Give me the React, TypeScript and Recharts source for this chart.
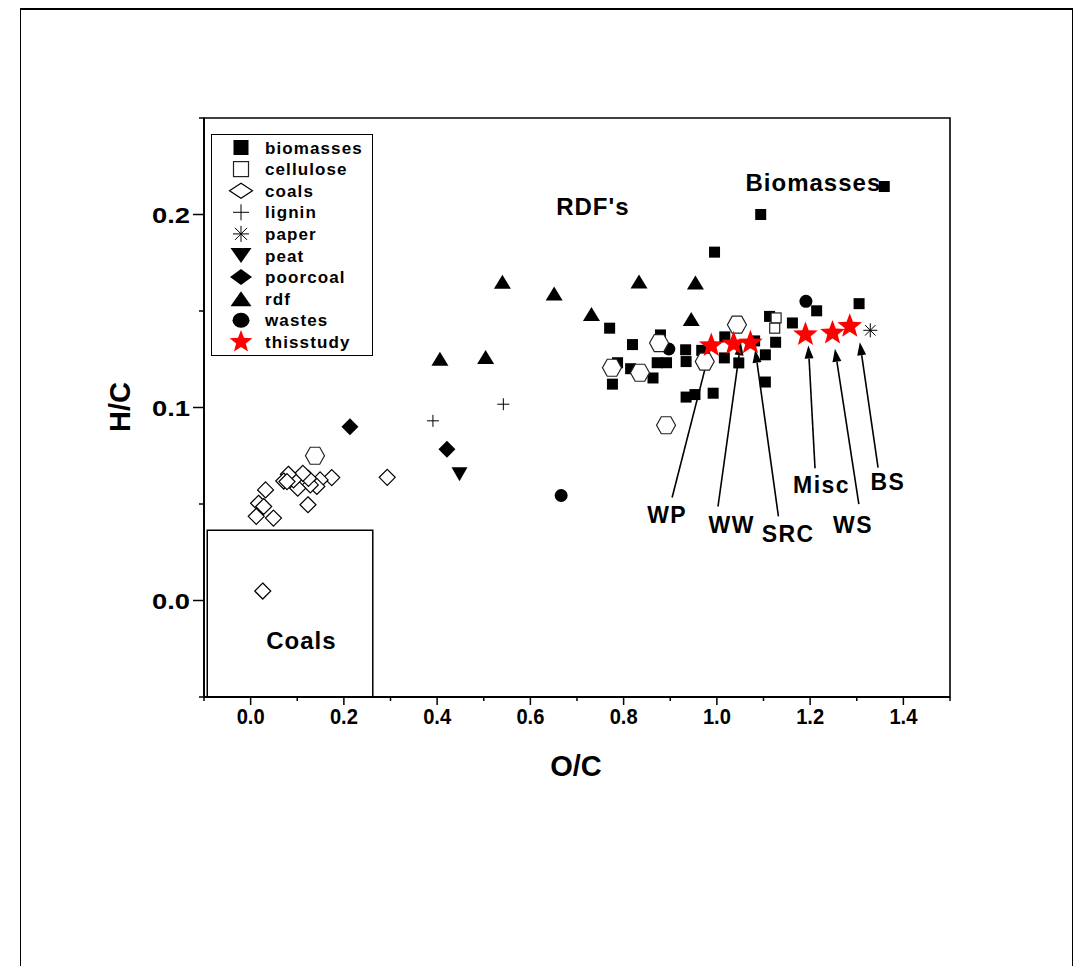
import React from "react";
import {
  ScatterChart,
  Scatter,
  XAxis,
  YAxis,
  ReferenceArea,
  ReferenceLine,
  Legend,
} from "recharts";

// values (O/C, H/C)
const biomasses = [
  { x: 1.359, y: 0.2145 }, { x: 1.094, y: 0.2 }, { x: 0.995, y: 0.1805 },
  { x: 1.305, y: 0.1538 }, { x: 1.214, y: 0.1501 }, { x: 1.113, y: 0.1472 },
  { x: 1.162, y: 0.1438 }, { x: 1.126, y: 0.1338 }, { x: 1.081, y: 0.1345 },
  { x: 1.104, y: 0.1273 }, { x: 1.104, y: 0.1132 }, { x: 1.017, y: 0.1366 },
  { x: 1.016, y: 0.1257 }, { x: 1.047, y: 0.1231 }, { x: 0.9675, y: 0.1296 },
  { x: 0.992, y: 0.1074 }, { x: 0.953, y: 0.1067 }, { x: 0.934, y: 0.1054 },
  { x: 0.934, y: 0.1238 }, { x: 0.933, y: 0.1299 }, { x: 0.892, y: 0.1232 },
  { x: 0.872, y: 0.1232 }, { x: 0.863, y: 0.1153 }, { x: 0.879, y: 0.1376 },
  { x: 0.819, y: 0.1326 }, { x: 0.77, y: 0.1411 }, { x: 0.787, y: 0.1232 },
  { x: 0.815, y: 0.1201 }, { x: 0.776, y: 0.1121 },
];
const cellulose = [{ x: 1.127, y: 0.1464 }, { x: 1.124, y: 0.1411 }];
const coals = [
  { x: 0.026, y: 0.0049 }, { x: 0.293, y: 0.0638 }, { x: 0.174, y: 0.0637 },
  { x: 0.149, y: 0.0625 }, { x: 0.142, y: 0.0591 }, { x: 0.128, y: 0.0599 },
  { x: 0.124, y: 0.0633 }, { x: 0.112, y: 0.0659 }, { x: 0.101, y: 0.0582 },
  { x: 0.092, y: 0.0625 }, { x: 0.081, y: 0.0654 }, { x: 0.071, y: 0.0619 },
  { x: 0.078, y: 0.0616 }, { x: 0.123, y: 0.0496 }, { x: 0.032, y: 0.0573 },
  { x: 0.017, y: 0.0504 }, { x: 0.028, y: 0.0487 }, { x: 0.012, y: 0.0436 },
  { x: 0.049, y: 0.0427 },
];
const lignin = [{ x: 0.391, y: 0.0931 }, { x: 0.542, y: 0.1017 }];
const paper = [{ x: 1.329, y: 0.14 }];
const peat = [{ x: 0.448, y: 0.0654 }];
const poorcoal = [{ x: 0.213, y: 0.09 }, { x: 0.421, y: 0.0784 }];
const rdf = [
  { x: 0.54, y: 0.1651 }, { x: 0.651, y: 0.1591 }, { x: 0.833, y: 0.1653 },
  { x: 0.954, y: 0.1648 }, { x: 0.731, y: 0.1484 }, { x: 0.945, y: 0.1458 },
  { x: 0.406, y: 0.1252 }, { x: 0.504, y: 0.1262 },
];
const wastes = [{ x: 1.191, y: 0.155 }, { x: 0.897, y: 0.1303 }, { x: 0.666, y: 0.0544 }];
// open hexagons (not in the legend)
const hexagons = [
  { x: 0.138, y: 0.075 }, { x: 0.891, y: 0.0908 }, { x: 1.043, y: 0.1429 },
  { x: 0.876, y: 0.1334 }, { x: 0.775, y: 0.1206 }, { x: 0.835, y: 0.118 },
  { x: 0.974, y: 0.1238 },
];
const thisstudy = [
  { x: 0.988, y: 0.1321 }, { x: 1.036, y: 0.133 }, { x: 1.072, y: 0.1335 },
  { x: 1.19, y: 0.1378 }, { x: 1.248, y: 0.1386 }, { x: 1.285, y: 0.1421 },
];

const regionLabels = [
  { x: 0.734, y: 0.2043, text: "RDF's" },
  { x: 1.207, y: 0.2165, text: "Biomasses" },
  { x: 0.109, y: -0.0209, text: "Coals" },
];
const sampleLabels = [
  { x: 0.8934, y: 0.0444, text: "WP" },
  { x: 1.032, y: 0.0392, text: "WW" },
  { x: 1.153, y: 0.0345, text: "SRC" },
  { x: 1.2246, y: 0.0596, text: "Misc" },
  { x: 1.292, y: 0.0389, text: "WS" },
  { x: 1.367, y: 0.0613, text: "BS" },
];
const arrows = [
  { from: { x: 0.904, y: 0.0534 }, to: { x: 0.9846, y: 0.1295 } },
  { from: { x: 1.0024, y: 0.0487 }, to: { x: 1.0515, y: 0.1338 } },
  { from: { x: 1.132, y: 0.0436 }, to: { x: 1.0823, y: 0.1299 } },
  { from: { x: 1.2105, y: 0.0685 }, to: { x: 1.1962, y: 0.1321 } },
  { from: { x: 1.3045, y: 0.0499 }, to: { x: 1.2532, y: 0.1304 } },
  { from: { x: 1.3457, y: 0.0688 }, to: { x: 1.3066, y: 0.1338 } },
];

const xTicks = [-0.1, 0, 0.1, 0.2, 0.3, 0.4, 0.5, 0.6, 0.7, 0.8, 0.9, 1.0, 1.1, 1.2, 1.3, 1.4, 1.5];
const xMajor = [0, 0.2, 0.4, 0.6, 0.8, 1.0, 1.2, 1.4];
const xMajorLabels = ["0.0", "0.2", "0.4", "0.6", "0.8", "1.0", "1.2", "1.4"];
const yTicks = [-0.05, 0, 0.05, 0.1, 0.15, 0.2, 0.25];
const yMajor = [0, 0.1, 0.2];
const yMajorLabels = ["0.0", "0.1", "0.2"];

const legendItems = [
  { name: "biomasses", kind: "square" },
  { name: "cellulose", kind: "openSquare" },
  { name: "coals", kind: "diamond" },
  { name: "lignin", kind: "plus" },
  { name: "paper", kind: "asterisk" },
  { name: "peat", kind: "down" },
  { name: "poorcoal", kind: "fillDiamond" },
  { name: "rdf", kind: "up" },
  { name: "wastes", kind: "circle" },
  { name: "thisstudy", kind: "star" },
];

const FONT = "'Liberation Sans', Arial, sans-serif";
const RED = "#ff0000";

const starPoints = (cx: number, cy: number, ro: number, ri: number) =>
  Array.from({ length: 10 }, (_, i) => {
    const r = i % 2 === 0 ? ro : ri;
    const a = -Math.PI / 2 + (i * Math.PI) / 5;
    return `${cx + r * Math.cos(a)},${cy + r * Math.sin(a)}`;
  }).join(" ");

// one marker drawer for plot and legend; w/h let the legend stretch them
function mark(kind: string, cx: number, cy: number, w: number, h: number) {
  const hw = w / 2;
  const hh = h / 2;
  switch (kind) {
    case "square":
      return <rect x={cx - hw} y={cy - hh} width={w} height={h} fill="#000" />;
    case "openSquare":
      return <rect x={cx - hw} y={cy - hh} width={w} height={h} fill="#fff" stroke="#222" strokeWidth={1.2} />;
    case "diamond":
      return (
        <polygon
          points={`${cx},${cy - hh} ${cx + hw},${cy} ${cx},${cy + hh} ${cx - hw},${cy}`}
          fill="#fff" stroke="#000" strokeWidth={1.2}
        />
      );
    case "fillDiamond":
      return <polygon points={`${cx},${cy - hh} ${cx + hw},${cy} ${cx},${cy + hh} ${cx - hw},${cy}`} fill="#000" />;
    case "plus":
      return (
        <g stroke="#000" strokeWidth={1}>
          <line x1={cx - hw} y1={cy} x2={cx + hw} y2={cy} />
          <line x1={cx} y1={cy - hh} x2={cx} y2={cy + hh} />
        </g>
      );
    case "asterisk":
      return (
        <g stroke="#000" strokeWidth={1}>
          <line x1={cx - hw} y1={cy} x2={cx + hw} y2={cy} />
          <line x1={cx} y1={cy - hh} x2={cx} y2={cy + hh} />
          <line x1={cx - hw * 0.75} y1={cy - hh * 0.75} x2={cx + hw * 0.75} y2={cy + hh * 0.75} />
          <line x1={cx - hw * 0.75} y1={cy + hh * 0.75} x2={cx + hw * 0.75} y2={cy - hh * 0.75} />
        </g>
      );
    case "down":
      return <polygon points={`${cx - hw},${cy - hh} ${cx + hw},${cy - hh} ${cx},${cy + hh}`} fill="#000" />;
    case "up":
      return <polygon points={`${cx - hw},${cy + hh} ${cx + hw},${cy + hh} ${cx},${cy - hh}`} fill="#000" />;
    case "circle":
      return <ellipse cx={cx} cy={cy} rx={hw} ry={hh} fill="#000" />;
    case "hexagon":
      return (
        <polygon
          points={`${cx + hw},${cy} ${cx + hw / 2},${cy - hh} ${cx - hw / 2},${cy - hh} ${cx - hw},${cy} ${cx - hw / 2},${cy + hh} ${cx + hw / 2},${cy + hh}`}
          fill="#fff" stroke="#222" strokeWidth={1.2}
        />
      );
    case "star":
      return <polygon points={starPoints(cx, cy, hw, hw * 0.42)} fill={RED} />;
    default:
      return <g />;
  }
}

const shapeOf = (kind: string, w: number, h: number) => (p: any) => mark(kind, p.cx, p.cy, w, h);

const textShape = (size: number, spacing: number) => (p: any) => (
  <text
    x={p.cx}
    y={p.cy}
    textAnchor="middle"
    dominantBaseline="central"
    fontFamily={FONT}
    fontWeight="bold"
    fontSize={size}
    letterSpacing={spacing}
    fill="#000"
  >
    {p.payload.text}
  </text>
);

const Arrow = (p: any) => {
  const { x1, y1, x2, y2 } = p;
  const dx = x2 - x1;
  const dy = y2 - y1;
  const len = Math.sqrt(dx * dx + dy * dy);
  const ux = dx / len;
  const uy = dy / len;
  const headLen = 13;
  const headW = 4.5;
  const bx = x2 - ux * headLen;
  const by = y2 - uy * headLen;
  return (
    <g>
      <line x1={x1} y1={y1} x2={bx} y2={by} stroke="#000" strokeWidth={1.6} />
      <polygon
        points={`${x2},${y2} ${bx - uy * headW},${by + ux * headW} ${bx + uy * headW},${by - ux * headW}`}
        fill="#000"
      />
    </g>
  );
};

const near = (list: number[], v: number) => list.findIndex((m) => Math.abs(m - v) < 1e-6);

const XTick = (p: any) => {
  const { x, y, payload } = p;
  const i = near(xMajor, payload.value);
  return (
    <g>
      <line x1={x} y1={y} x2={x} y2={y + (i >= 0 ? 8 : 4)} stroke="#000" strokeWidth={1.5} />
      {i >= 0 && (
        <text
          x={x}
          y={y + 27}
          textAnchor="middle"
          fontFamily={FONT}
          fontWeight="bold"
          fontSize={22}
          textLength={28}
          lengthAdjust="spacingAndGlyphs"
          fill="#000"
        >
          {xMajorLabels[i]}
        </text>
      )}
    </g>
  );
};

const YTick = (p: any) => {
  const { x, y, payload } = p;
  const i = near(yMajor, payload.value);
  return (
    <g>
      <line x1={x} y1={y} x2={x - (i >= 0 ? 11 : 5)} y2={y} stroke="#000" strokeWidth={1.5} />
      {i >= 0 && (
        <text
          x={x - 14}
          y={y + 8}
          textAnchor="end"
          fontFamily={FONT}
          fontWeight="bold"
          fontSize={22}
          textLength={38}
          lengthAdjust="spacingAndGlyphs"
          fill="#000"
        >
          {yMajorLabels[i]}
        </text>
      )}
    </g>
  );
};

const legendSizes: Record<string, [number, number]> = {
  square: [15, 15],
  openSquare: [15, 15],
  diamond: [23, 15],
  plus: [16, 16],
  asterisk: [16, 16],
  down: [21, 15],
  fillDiamond: [22, 16],
  up: [21, 15],
  circle: [17, 15],
  star: [24, 24],
};

const LegendBox = () => (
  <svg width={162} height={222} style={{ display: "block" }}>
    <rect x={0.5} y={0.5} width={161} height={221} fill="#fff" stroke="#000" strokeWidth={1} />
    {legendItems.map((it, i) => {
      const cy = 13.5 + i * 21.6;
      const [w, h] = legendSizes[it.kind];
      return (
        <g key={it.name}>
          {mark(it.kind, 30, cy, w, h)}
          <text
            x={54}
            y={cy + 6}
            fontFamily={FONT}
            fontWeight="bold"
            fontSize={17}
            letterSpacing={1.1}
            fill="#000"
          >
            {it.name}
          </text>
        </g>
      );
    })}
  </svg>
);

export default function App() {
  return (
    <div
      style={{
        position: "absolute",
        left: 0,
        top: 0,
        width: 1092,
        height: 966,
        background: "#fff",
        overflow: "hidden",
        fontFamily: FONT,
      }}
    >
      <div
        style={{
          position: "absolute",
          left: 20,
          top: 8,
          width: 1051,
          height: 1000,
          borderTop: "2px solid #000",
          borderLeft: "1.5px solid #000",
          borderRight: "1.5px solid #000",
        }}
      />
      <ScatterChart
        width={1092}
        height={966}
        margin={{ top: 118, right: 142, bottom: 229, left: 144 }}
      >
        <XAxis
          type="number"
          dataKey="x"
          domain={[-0.1, 1.5]}
          ticks={xTicks}
          interval={0}
          allowDataOverflow
          height={40}
          tickSize={0}
          tickMargin={0}
          tickLine={false}
          axisLine={{ stroke: "#000", strokeWidth: 1.8 }}
          tick={<XTick />}
        />
        <YAxis
          type="number"
          dataKey="y"
          domain={[-0.05, 0.25]}
          ticks={yTicks}
          interval={0}
          allowDataOverflow
          width={60}
          tickSize={0}
          tickMargin={0}
          tickLine={false}
          axisLine={{ stroke: "#000", strokeWidth: 1.8 }}
          tick={<YTick />}
        />
        <ReferenceArea x1={-0.1} x2={1.5} y1={-0.05} y2={0.25} fill="none" stroke="#000" strokeWidth={1.6} />
        <ReferenceArea x1={-0.093} x2={0.262} y1={-0.05} y2={0.0364} fill="none" stroke="#000" strokeWidth={1.5} />

        <Scatter name="biomasses" data={biomasses} shape={shapeOf("square", 11, 11)} isAnimationActive={false} />
        <Scatter name="cellulose" data={cellulose} shape={shapeOf("openSquare", 10, 10)} isAnimationActive={false} />
        <Scatter name="coals" data={coals} shape={shapeOf("diamond", 16, 16)} isAnimationActive={false} />
        <Scatter name="lignin" data={lignin} shape={shapeOf("plus", 12, 12)} isAnimationActive={false} />
        <Scatter name="paper" data={paper} shape={shapeOf("asterisk", 14, 14)} isAnimationActive={false} />
        <Scatter name="peat" data={peat} shape={shapeOf("down", 16, 14)} isAnimationActive={false} />
        <Scatter name="poorcoal" data={poorcoal} shape={shapeOf("fillDiamond", 17, 17)} isAnimationActive={false} />
        <Scatter name="rdf" data={rdf} shape={shapeOf("up", 17, 14)} isAnimationActive={false} />
        <Scatter name="wastes" data={wastes} shape={shapeOf("circle", 13, 13)} isAnimationActive={false} />
        <Scatter name="other" legendType="none" data={hexagons} shape={shapeOf("hexagon", 19, 17)} isAnimationActive={false} />

        {arrows.map((a, i) => (
          <ReferenceLine
            key={i}
            segment={[a.from, a.to]}
            stroke="#000"
            shape={Arrow}
          />
        ))}

        <Scatter name="thisstudy" data={thisstudy} shape={shapeOf("star", 26, 26)} isAnimationActive={false} />
        <Scatter name="regions" legendType="none" data={regionLabels} shape={textShape(24, 1)} isAnimationActive={false} />
        <Scatter name="samples" legendType="none" data={sampleLabels} shape={textShape(23, 1.5)} isAnimationActive={false} />

        <Legend
          verticalAlign="middle"
          align="center"
          layout="horizontal"
          content={() => <LegendBox />}
          wrapperStyle={{ left: 211, top: 134, width: 162, height: 222 }}
        />
      </ScatterChart>
      <div
        style={{
          position: "absolute",
          left: 120,
          top: 407,
          transform: "translate(-50%, -50%) rotate(-90deg)",
          fontSize: 29,
          fontWeight: "bold",
          whiteSpace: "nowrap",
        }}
      >
        H/C
      </div>
      <div
        style={{
          position: "absolute",
          left: 576,
          top: 766,
          transform: "translate(-50%, -50%)",
          fontSize: 29,
          fontWeight: "bold",
          whiteSpace: "nowrap",
        }}
      >
        O/C
      </div>
    </div>
  );
}
